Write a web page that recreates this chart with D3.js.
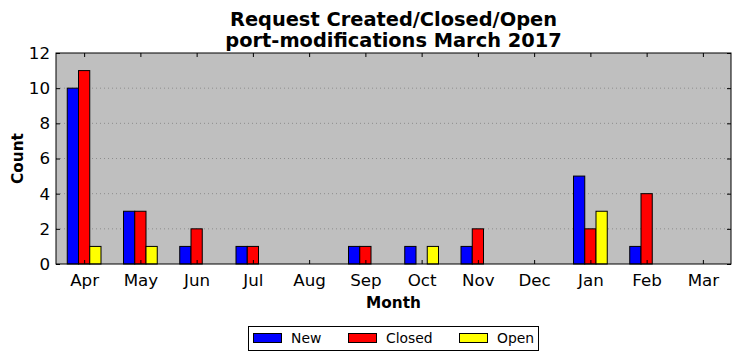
<!DOCTYPE html>
<html><head><meta charset="utf-8">
<script src="https://cdn.jsdelivr.net/npm/d3@7"></script>
<style>body{margin:0;background:#fff}svg{font-family:"DejaVu Sans",sans-serif}</style>
</head><body><svg id="c" width="740" height="361"></svg>
<script>
const months = ["Apr","May","Jun","Jul","Aug","Sep","Oct","Nov","Dec","Jan","Feb","Mar"];
const newVals = [10,3,1,1,0,1,1,1,0,5,1,0];
const closedVals = [11,3,2,1,0,1,0,2,0,2,4,0];
const openVals = [1,1,0,0,0,0,1,0,0,3,0,0];
const seriesNames = ["New","Closed","Open"];
const seriesColors = ["#0000ff","#ff0000","#ffff00"];
const yTicks = [0,2,4,6,8,10,12];

const svg = d3.select("#c");
const L=56, R=731, T=53, B=264;
const x = d3.scaleLinear().domain([-0.5, 11.5]).range([L,R]);
const y = d3.scaleLinear().domain([0,12]).range([B,T]);

svg.append("rect").attr("x",L).attr("y",T).attr("width",R-L).attr("height",B-T).attr("fill","#bfbfbf");

// grid
svg.append("g").selectAll("line").data(yTicks.slice(1,-1)).join("line")
  .attr("x1",L).attr("x2",R).attr("y1",d=>y(d)).attr("y2",d=>y(d))
  .attr("stroke","#808080").attr("stroke-width",0.8).attr("stroke-dasharray","1,3");

const series=[newVals,closedVals,openVals];
const offsets=[-0.3,-0.1,0.1];
series.forEach((vals,si)=>{
  svg.append("g").selectAll("rect").data(vals).join("rect")
    .attr("x",(d,i)=>x(i+offsets[si]))
    .attr("width",x(0.2)-x(0))
    .attr("y",d=>y(d))
    .attr("height",d=>y(0)-y(d))
    .attr("fill",seriesColors[si]).attr("stroke","#000").attr("stroke-width",1);
});

// axes
const xb = d3.axisBottom(x).tickValues(d3.range(12)).tickFormat(i=>months[i]).tickSizeInner(-4).tickSizeOuter(0).tickPadding(10);
svg.append("g").attr("transform",`translate(0,${B})`).call(xb);
const xt = d3.axisTop(x).tickValues(d3.range(12)).tickFormat("").tickSizeInner(-4).tickSizeOuter(0);
svg.append("g").attr("transform",`translate(0,${T})`).call(xt);
const yl = d3.axisLeft(y).tickValues(yTicks).tickSizeInner(-4).tickSizeOuter(0).tickPadding(6);
svg.append("g").attr("transform",`translate(${L},0)`).call(yl);
const yr = d3.axisRight(y).tickValues(yTicks).tickFormat("").tickSizeInner(-4).tickSizeOuter(0);
svg.append("g").attr("transform",`translate(${R},0)`).call(yr);
svg.selectAll(".domain").remove();
svg.selectAll(".tick line").attr("stroke","#000");
svg.selectAll(".tick text").attr("font-size",16.7).attr("fill","#000").attr("font-family","DejaVu Sans");

svg.append("rect").attr("x",L).attr("y",T).attr("width",R-L).attr("height",B-T).attr("fill","none").attr("stroke","#000").attr("stroke-width",1);

// titles
svg.append("text").attr("x",(L+R)/2).attr("y",26).attr("text-anchor","middle").attr("font-weight","bold").attr("font-size",19.4).text("Request Created/Closed/Open");
svg.append("text").attr("x",(L+R)/2).attr("y",47).attr("text-anchor","middle").attr("font-weight","bold").attr("font-size",19.4).text("port-modifications March 2017");
svg.append("text").attr("x",(L+R)/2).attr("y",308).attr("text-anchor","middle").attr("font-weight","bold").attr("font-size",15.3).text("Month");
svg.append("text").attr("transform",`translate(23,${(T+B)/2}) rotate(-90)`).attr("text-anchor","middle").attr("font-weight","bold").attr("font-size",15.3).text("Count");

// legend
const lg = svg.append("g");
lg.append("rect").attr("x",248.5).attr("y",326.5).attr("width",290).attr("height",24).attr("fill","#fff").attr("stroke","#000");
const lx=[253,348,459];
seriesNames.forEach((n,i)=>{
  lg.append("rect").attr("x",lx[i]+0.5).attr("y",333.5).attr("width",28).attr("height",9).attr("fill",seriesColors[i]).attr("stroke","#000");
  lg.append("text").attr("x",lx[i]+38).attr("y",343).attr("font-size",13.9).text(n);
});
</script></body></html>
